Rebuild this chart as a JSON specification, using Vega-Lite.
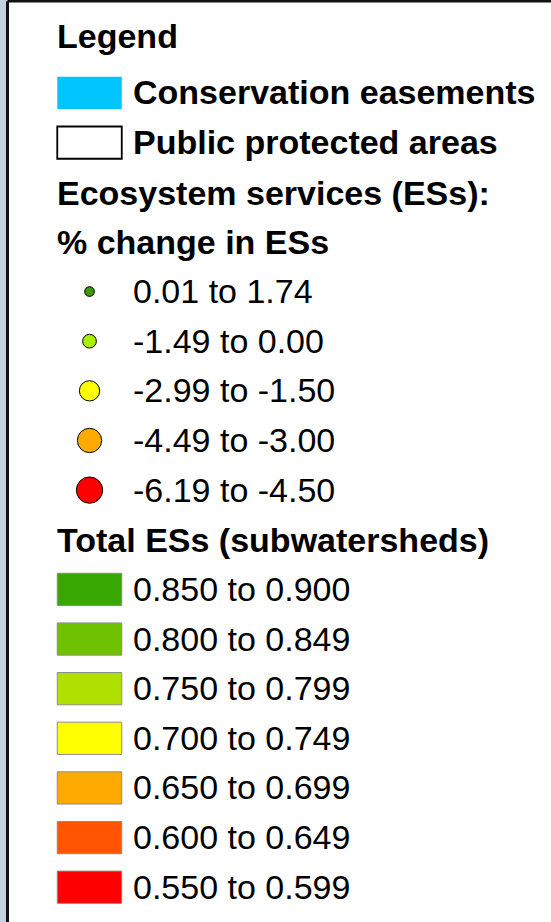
{
  "$schema": "https://vega.github.io/schema/vega-lite/v6.json",
  "width": 543.5,
  "height": 920.75,
  "autosize": {"type": "none"},
  "padding": {"left": 7.5, "top": 1.25, "right": 0, "bottom": 0},
  "background": "#c2d2e2",
  "config": {
    "view": {"fill": "white", "stroke": null},
    "axis": {"domain": true, "domainColor": "#111111", "ticks": false, "labels": false, "grid": false, "title": null, "translate": 0},
    "text": {"font": "Liberation Sans", "fontSize": 34, "align": "left", "baseline": "alphabetic", "color": "black"}
  },
  "data": {
    "values": [
      {"label": "Legend", "group": "title"},
      {"label": "Conservation easements", "group": "area"},
      {"label": "Public protected areas", "group": "area"},
      {"label": "Ecosystem services (ESs):", "group": "header"},
      {"label": "% change in ESs", "group": "header"},
      {"label": "0.01 to 1.74", "group": "circle", "upper": 1.74},
      {"label": "-1.49 to 0.00", "group": "circle", "upper": 0.0},
      {"label": "-2.99 to -1.50", "group": "circle", "upper": -1.5},
      {"label": "-4.49 to -3.00", "group": "circle", "upper": -3.0},
      {"label": "-6.19 to -4.50", "group": "circle", "upper": -4.5},
      {"label": "Total ESs (subwatersheds)", "group": "header"},
      {"label": "0.850 to 0.900", "group": "class"},
      {"label": "0.800 to 0.849", "group": "class"},
      {"label": "0.750 to 0.799", "group": "class"},
      {"label": "0.700 to 0.749", "group": "class"},
      {"label": "0.650 to 0.699", "group": "class"},
      {"label": "0.600 to 0.649", "group": "class"},
      {"label": "0.550 to 0.599", "group": "class"}
    ]
  },
  "encoding": {
    "x": {"datum": "symbol", "type": "nominal", "scale": {"type": "point", "domain": ["symbol"], "padding": 0.5, "align": 0.1509}, "axis": {"orient": "top", "domainWidth": 2.5}},
    "y": {
      "field": "label",
      "type": "nominal",
      "scale": {
        "type": "point",
        "domain": ["Legend", "Conservation easements", "Public protected areas", "Ecosystem services (ESs):", "% change in ESs", "0.01 to 1.74", "-1.49 to 0.00", "-2.99 to -1.50", "-4.49 to -3.00", "-6.19 to -4.50", "Total ESs (subwatersheds)", "0.850 to 0.900", "0.800 to 0.849", "0.750 to 0.799", "0.700 to 0.749", "0.650 to 0.699", "0.600 to 0.649", "0.550 to 0.599"],
        "padding": 0.7743,
        "align": 0.5477
      },
      "axis": {"orient": "left", "domainWidth": 3}
    }
  },
  "layer": [
    {
      "transform": [{"filter": "datum.group === 'circle'"}],
      "mark": {"type": "point", "shape": "circle", "filled": true, "stroke": "black", "strokeWidth": 1, "opacity": 1},
      "encoding": {
        "fill": {
          "field": "label", "type": "nominal", "legend": null,
          "scale": {
            "domain": ["Conservation easements", "Public protected areas", "0.01 to 1.74", "-1.49 to 0.00", "-2.99 to -1.50", "-4.49 to -3.00", "-6.19 to -4.50", "0.850 to 0.900", "0.800 to 0.849", "0.750 to 0.799", "0.700 to 0.749", "0.650 to 0.699", "0.600 to 0.649", "0.550 to 0.599"],
            "range": ["#00c5ff", "#ffffff", "#3a9a0a", "#aaf000", "#ffff00", "#ffaa00", "#ff0000", "#38a800", "#6fc200", "#b0e000", "#ffff00", "#ffaa00", "#ff5500", "#ff0000"]
          }
        },
        "size": {"field": "upper", "type": "quantitative", "legend": null, "scale": {"domain": [-4.5, -3.0, -1.5, 0.0, 1.74], "range": [692, 590, 412, 188, 94]}}
      }
    },
    {
      "transform": [{"filter": "datum.group === 'class'"}],
      "mark": {"type": "point", "shape": "M-1,-0.5H1V0.5H-1Z", "filled": true, "size": 4160, "stroke": "#8c8c8c", "strokeWidth": 1, "opacity": 1},
      "encoding": {
        "fill": {"field": "label", "type": "nominal", "legend": null}
      }
    },
    {
      "transform": [{"filter": "datum.label === 'Conservation easements'"}],
      "mark": {"type": "point", "shape": "M-1,-0.5H1V0.5H-1Z", "filled": true, "size": 4160, "strokeWidth": 0, "opacity": 1},
      "encoding": {
        "fill": {"field": "label", "type": "nominal", "legend": null}
      }
    },
    {
      "transform": [{"filter": "datum.label === 'Public protected areas'"}],
      "mark": {"type": "point", "shape": "M-1,-0.5H1V0.5H-1Z", "filled": true, "size": 4160, "stroke": "black", "strokeWidth": 1.8, "opacity": 1},
      "encoding": {
        "fill": {"field": "label", "type": "nominal", "legend": null}
      }
    },
    {
      "transform": [{"filter": "datum.group === 'title'"}],
      "mark": {"type": "text", "fontWeight": "bold", "dx": -32.5, "dy": 4.5},
      "encoding": {"text": {"field": "label"}}
    },
    {
      "transform": [{"filter": "datum.group === 'header'"}],
      "mark": {"type": "text", "fontWeight": "bold", "dx": -32.5, "dy": 12.5},
      "encoding": {"text": {"field": "label"}}
    },
    {
      "transform": [{"filter": "datum.group === 'area'"}],
      "mark": {"type": "text", "fontWeight": "bold", "dx": 43.5, "dy": 11},
      "encoding": {"text": {"field": "label"}}
    },
    {
      "transform": [{"filter": "datum.group === 'circle' || datum.group === 'class'"}],
      "mark": {"type": "text", "fontWeight": "normal", "dx": 43.5, "dy": 11.5},
      "encoding": {"text": {"field": "label"}}
    }
  ]
}
